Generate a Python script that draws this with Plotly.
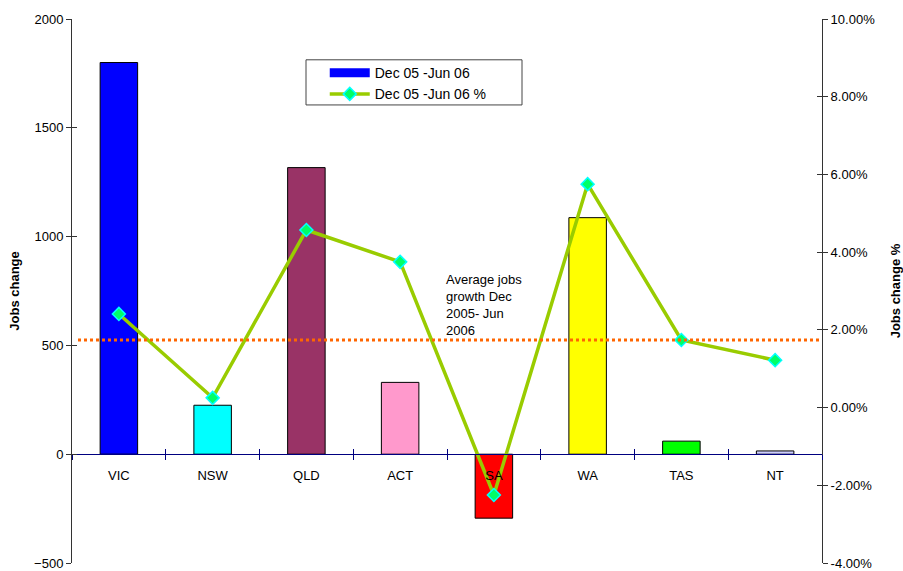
import plotly.graph_objects as go

# Half-year jobs change by state/territory
states = ["VIC", "NSW", "QLD", "ACT", "SA", "WA", "TAS", "NT"]
jobs_change = [1800, 225, 1317, 330, -294, 1087, 60, 15]
jobs_change_pct = [2.41, 0.25, 4.57, 3.75, -2.25, 5.75, 1.74, 1.22]
avg_growth_pct = 1.74
bar_colors = ["#0000FF", "#00FFFF", "#993366", "#FF99CC",
              "#FF0000", "#FFFF00", "#00FF00", "#CCCCFF"]

left_ticks = [-500, 0, 500, 1000, 1500, 2000]
right_ticks = [-4, -2, 0, 2, 4, 6, 8, 10]
right_tick_text = [f"{v:.2f}%" for v in right_ticks]

FONT = "Liberation Sans, Arial, sans-serif"

fig = go.Figure()

fig.add_trace(go.Bar(
    x=states, y=jobs_change, name="Dec 05 -Jun 06",
    marker=dict(color=bar_colors, line=dict(color="#000000", width=1)),
    width=0.4, yaxis="y", showlegend=False,
))

# legend key for the bars, drawn as a wide blue band
fig.add_trace(go.Scatter(
    x=[None], y=[None], name="Dec 05 -Jun 06", mode="lines",
    line=dict(color="#0000FF", width=9), hoverinfo="skip",
))

fig.add_trace(go.Scatter(
    x=states, y=jobs_change_pct, name="Dec 05 -Jun 06 %",
    mode="lines+markers", yaxis="y2",
    line=dict(color="#99CC00", width=3.5),
    marker=dict(symbol="diamond", size=10, color="#00FF66",
                line=dict(color="#00FFFF", width=1.5)),
))

# average growth reference line
fig.add_shape(type="line", xref="paper", yref="y2",
              x0=0.008, x1=1, y0=avg_growth_pct, y1=avg_growth_pct,
              line=dict(color="#FF6600", width=3, dash="dot"))

fig.add_annotation(xref="paper", yref="paper", x=0.496, y=0.538,
                   xanchor="left", yanchor="top", align="left", showarrow=False,
                   text="Average jobs<br>growth Dec<br>2005- Jun<br>2006",
                   font=dict(family=FONT, size=13, color="#000000"))

# legend frame
fig.add_shape(type="rect", xref="paper", yref="paper",
              x0=0.312, x1=0.6, y0=0.842, y1=0.925,
              line=dict(color="#444444", width=1), fillcolor="white", layer="below")

axis_font = dict(family=FONT, size=13, color="#000000")
title_font = dict(family=FONT, size=13, color="#000000")

fig.update_layout(
    width=903, height=571,
    margin=dict(l=72, r=81, t=19, b=8, autoexpand=False),
    plot_bgcolor="white", paper_bgcolor="white",
    font=dict(family=FONT, size=13, color="#000000"),
    showlegend=True,
    legend=dict(x=0.337, y=0.93, xanchor="left", yanchor="top",
                bgcolor="rgba(0,0,0,0)", borderwidth=0,
                font=dict(family=FONT, size=14, color="#000000"),
                itemwidth=40, tracegroupgap=0),
    bargap=0.6,
    xaxis=dict(
        type="category", anchor="free", position=0.2, automargin=False,
        showline=True, linecolor="#000080", linewidth=1,
        ticks="outside", tickson="boundaries", ticklen=5, tickcolor="#000080",
        showgrid=False, zeroline=False, tickfont=axis_font,
        ticklabelstandoff=9,
    ),
    xaxis2=dict(
        overlaying="x", anchor="free", position=0.2, range=[-0.5, 7.5],
        tickvals=[-0.5, 0.5, 1.5, 2.5, 3.5, 4.5, 5.5, 6.5, 7.5],
        ticks="inside", ticklen=5, tickcolor="#000080", automargin=False,
        showticklabels=False, showline=False, showgrid=False, zeroline=False,
    ),
    yaxis=dict(
        range=[-500, 2000], tickvals=left_ticks, automargin=False,
        showline=True, linecolor="#333333", linewidth=1,
        ticks="outside", ticklen=5, tickcolor="#333333",
        showgrid=False, zeroline=False, tickfont=axis_font,
        title=dict(text="<b>Jobs change</b>", font=title_font, standoff=11),
    ),
    yaxis2=dict(
        range=[-4, 10], tickvals=right_ticks, ticktext=right_tick_text,
        overlaying="y", side="right", automargin=False,
        showline=True, linecolor="#333333", linewidth=1,
        ticks="outside", ticklen=5, tickcolor="#333333",
        showgrid=False, zeroline=False, tickfont=axis_font,
        title=dict(text="<b>Jobs change %</b>", font=title_font, standoff=19),
    ),
    yaxis3=dict(
        range=[-500, 2000], tickvals=left_ticks, overlaying="y", side="left",
        ticks="inside", ticklen=5, tickcolor="#333333", automargin=False,
        showticklabels=False, showline=False, showgrid=False, zeroline=False,
    ),
    yaxis4=dict(
        range=[-4, 10], tickvals=right_ticks, overlaying="y", side="right",
        ticks="inside", ticklen=5, tickcolor="#333333", automargin=False,
        showticklabels=False, showline=False, showgrid=False, zeroline=False,
    ),
)

# empty traces so the overlay tick axes are drawn
fig.add_trace(go.Scatter(x=[None], y=[None], xaxis="x2", yaxis="y3",
                         showlegend=False, hoverinfo="skip"))
fig.add_trace(go.Scatter(x=[None], y=[None], yaxis="y4",
                         showlegend=False, hoverinfo="skip"))

fig.write_html("out.html")
